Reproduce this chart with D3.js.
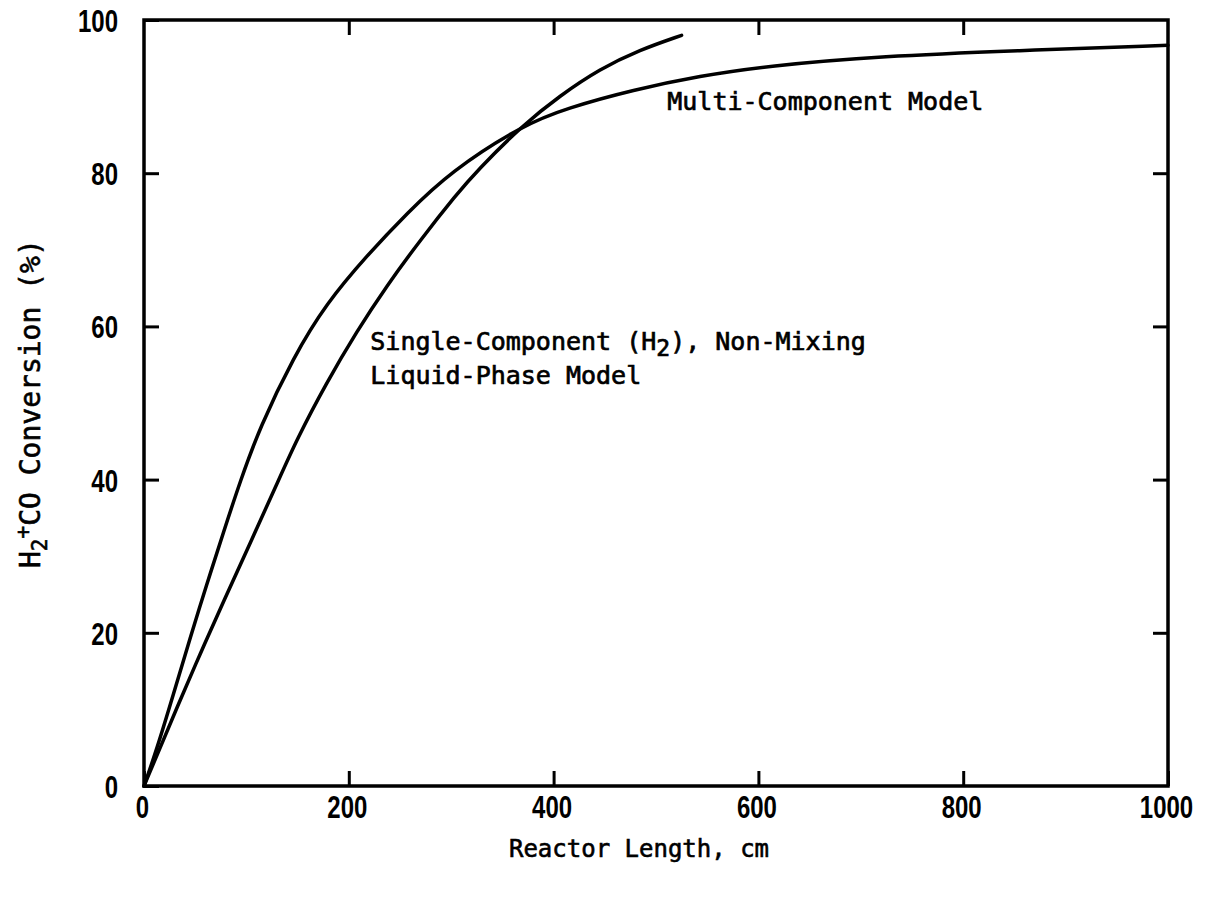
<!DOCTYPE html>
<html>
<head>
<meta charset="utf-8">
<script src="https://cdn.jsdelivr.net/npm/d3@7"></script>
<style>
  html, body { margin: 0; padding: 0; background: #fff; }
  svg { display: block; }
</style>
</head>
<body>
<svg id="chart" width="1207" height="900"></svg>
<script>
// ---- data ----
const xTicks = [0, 200, 400, 600, 800, 1000];
const yTicks = [0, 20, 40, 60, 80, 100];

const multiX = [0, 12, 29, 45, 61, 78, 94, 113, 146, 178, 218, 257, 299, 370, 413, 478, 543, 608, 722, 852, 1000];
const multiY = [0, 4.6, 12.1, 19.3, 26.2, 33.3, 39.8, 46.8, 56, 63, 69.3, 74.8, 80.2, 86.3, 88.5, 90.9, 92.7, 94.0, 95.3, 96.0, 96.7];

const singleX = [0, 12, 32, 55, 78, 104, 131, 149, 178, 208, 237, 270, 305, 325, 370, 406, 445, 484, 525];
const singleY = [0, 3.8, 10.2, 17.3, 24.2, 31.8, 39.8, 45.2, 52.6, 59.4, 65.3, 71.3, 77.2, 80.3, 86.3, 90.1, 93.6, 96.1, 98];

const xTitle = "Reactor Length, cm";
const multiLabel = "Multi-Component Model";
const singleLabel1a = "Single-Component (H";
const singleLabel1b = "2";
const singleLabel1c = "), Non-Mixing";
const singleLabel2 = "Liquid-Phase Model";

// ---- layout ----
const svg = d3.select("#chart");
const pL = 144, pR = 1168, pT = 20, pB = 786;

const x = d3.scaleLinear().domain([0, 1000]).range([pL, pR]);
const y = d3.scaleLinear().domain([0, 100]).range([pB, pT]);

const tickFont = "'Liberation Sans', Arial, sans-serif";
const labelFont = "'DejaVu Sans Mono', 'Liberation Mono', monospace";
const squeeze = 0.75;

// axes
const gB = svg.append("g").attr("transform", `translate(0,${pB})`)
  .call(d3.axisBottom(x).tickValues(xTicks).tickSizeInner(-15).tickSizeOuter(0).tickPadding(9).tickFormat(d3.format("d")));
const gL = svg.append("g").attr("transform", `translate(${pL},0)`)
  .call(d3.axisLeft(y).tickValues(yTicks).tickSizeInner(-15).tickSizeOuter(0).tickPadding(26).tickFormat(d3.format("d")));
const gT = svg.append("g").attr("transform", `translate(0,${pT})`)
  .call(d3.axisTop(x).tickValues(xTicks.slice(1, -1)).tickSizeInner(-15).tickSizeOuter(0).tickFormat(""));
const gR = svg.append("g").attr("transform", `translate(${pR},0)`)
  .call(d3.axisRight(y).tickValues(yTicks.slice(1, -1)).tickSizeInner(-15).tickSizeOuter(0).tickFormat(""));

[gB, gL, gT, gR].forEach(g => {
  g.select(".domain").remove();
  g.selectAll(".tick line").attr("stroke", "#000").attr("stroke-width", 3);
  g.selectAll(".tick text")
    .attr("fill", "#000")
    .style("font-family", tickFont)
    .style("font-weight", "bold")
    .style("font-size", "32px")
    .attr("transform", `scale(${squeeze},1)`);
});
gL.selectAll(".tick text").attr("dy", "0.36em").attr("x", -26 / squeeze);
gB.selectAll(".tick text").attr("x", -2 / squeeze);

// frame
svg.append("rect")
  .attr("x", x(0)).attr("y", y(100))
  .attr("width", x(1000) - x(0)).attr("height", y(0) - y(100))
  .attr("fill", "none").attr("stroke", "#000").attr("stroke-width", 3.5);

// curves
const line = d3.line().x(d => x(d[0])).y(d => y(d[1])).curve(d3.curveBasis);
const multi = multiX.map((v, i) => [v, multiY[i]]);
const single = singleX.map((v, i) => [v, singleY[i]]);

[multi, single].forEach(data => {
  svg.append("path")
    .datum(data)
    .attr("d", line)
    .attr("fill", "none")
    .attr("stroke", "#000")
    .attr("stroke-width", 3.5)
    .attr("stroke-linecap", "round")
    .attr("stroke-linejoin", "round");
});

// annotations (positioned in data coordinates)
const txt = (sel) => sel.attr("fill", "#000").attr("stroke", "#000").attr("stroke-width", 0.7)
  .style("font-family", labelFont).style("font-size", "25px");

svg.append("text").attr("x", x(511)).attr("y", y(88.3)).call(txt).text(multiLabel);

const s1 = svg.append("text").attr("x", x(221)).attr("y", y(56.9)).call(txt);
s1.append("tspan").text(singleLabel1a);
s1.append("tspan").attr("dy", 6).style("font-size", "23px").text(singleLabel1b);
s1.append("tspan").attr("dy", -6).text(singleLabel1c);

svg.append("text").attr("x", x(221)).attr("y", y(52.5)).call(txt).text(singleLabel2);

// x title
svg.append("text")
  .attr("x", 639).attr("y", 857)
  .attr("text-anchor", "middle")
  .attr("fill", "#000").attr("stroke", "#000").attr("stroke-width", 0.6)
  .style("font-family", labelFont).style("font-size", "24px")
  .text(xTitle);

// y title
const yt = svg.append("text")
  .attr("transform", "translate(40,568) rotate(-90)")
  .attr("fill", "#000").attr("stroke", "#000").attr("stroke-width", 0.6)
  .style("font-family", labelFont).style("font-size", "28px");
yt.append("tspan").text("H");
yt.append("tspan").attr("dy", 7).style("font-size", "21px").text("2");
yt.append("tspan").attr("dy", -17).style("font-size", "21px").text("+");
yt.append("tspan").attr("dy", 10).text("CO Conversion (%)");
</script>
</body>
</html>
